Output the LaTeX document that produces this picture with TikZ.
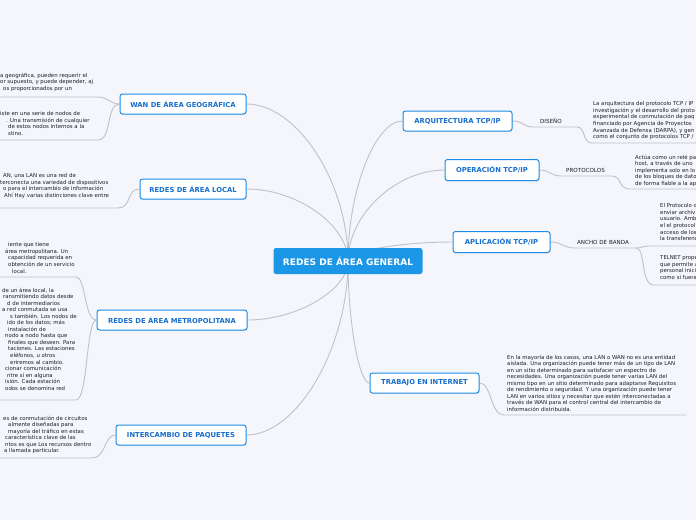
\documentclass[tikz,border=0pt]{standalone}
\usepackage{fontspec}
\setmainfont{DejaVu Sans}
\usetikzlibrary{shadows}
\pgfdeclarelayer{back}
\pgfsetlayers{back,main}
\definecolor{bgc}{RGB}{244,246,252}
\definecolor{nodeblue}{RGB}{30,140,228}
\definecolor{txtblue}{RGB}{22,110,205}
\definecolor{rootblue}{RGB}{28,150,230}
\definecolor{linegray}{RGB}{192,192,202}
\definecolor{bodytxt}{RGB}{30,30,35}
\begin{document}
\begin{tikzpicture}[x=1pt,y=-1pt,
 topic/.style={draw=nodeblue, line width=1pt, fill=white, rounded corners=2.5pt, text=txtblue,
   font=\fontsize{6.8}{8}\selectfont\bfseries, minimum height=20pt, inner xsep=0pt, inner ysep=0pt,
   drop shadow={shadow xshift=0.6pt, shadow yshift=-0.8pt, opacity=0.18}},
 root/.style={fill=rootblue, rounded corners=2.5pt, text=white, font=\fontsize{9}{10}\selectfont\bfseries,
   minimum width=149pt, minimum height=26pt, inner sep=0pt},
 txt/.style={font=\fontsize{5.4}{6.55}\selectfont, align=left, inner sep=0pt, anchor=north west, text=bodytxt},
 lbl/.style={font=\fontsize{5.6}{6}\selectfont, inner sep=0pt, text=bodytxt},
 link/.style={draw=linegray, line width=0.9pt},
]
\useasboundingbox (0,0) rectangle (696,520);
\clip (0,0) rectangle (696,520);
\begin{pgfonlayer}{back}
\fill[bgc] (0,0) rectangle (696,520);
\end{pgfonlayer}

% root and topics
\node[root] (root) at (348,261) {REDES DE ÁREA GENERAL};
\node[topic, minimum width=126pt] (wan) at (183,104) {WAN DE ÁREA GEOGRÁFICA};
\node[topic, minimum width=106pt] (lan) at (193,189) {REDES DE ÁREA LOCAL};
\node[topic, minimum width=150pt] (metro) at (172,320) {REDES DE ÁREA METROPOLITANA};
\node[topic, minimum width=130pt] (paq) at (181,435) {INTERCAMBIO DE PAQUETES};
\node[topic, minimum width=109pt] (arq) at (457.5,121) {ARQUITECTURA TCP/IP};
\node[topic, minimum width=94pt, minimum height=21pt] (oper) at (492,170) {OPERACIÓN TCP/IP};
\node[topic, minimum width=97pt, minimum height=21pt] (aplic) at (501.5,242) {APLICACIÓN TCP/IP};
\node[topic, minimum width=109pt] (trab) at (424.5,383) {TRABAJO EN INTERNET};

% labels
\node[lbl] (dis) at (551,121) {DISEÑO};
\node[lbl] (prot) at (585.5,170) {PROTOCOLOS};
\node[lbl] (anch) at (603,242) {ANCHO DE BANDA};

% left texts
\node[txt] (w1) at (0,72.5) {a geográfica, pueden requerir el\\or supuesto, y puede depender, aj\\\hspace*{3pt}os proporcionados por un};
\node[txt] (w2) at (0,111.5) {iste en una serie de nodos de\\\hspace*{6pt}. Una transmisión de cualquier\\\hspace*{8pt}de estos nodos internos a la\\\hspace*{8pt}stino.};
\node[txt] (l1) at (0,173.5) {\hspace*{3pt}AN, una LAN es una red de\\terconecta una variedad de dispositivos\\\hspace*{3pt}o para el intercambio de información\\\hspace*{4pt}Ahí Hay varias distinciones clave entre};
\node[txt] (m1) at (0,242.5) {\hspace*{8pt}iente que tiene\\\hspace*{5pt}área metropolitana. Un\\\hspace*{8pt}capacidad requerida en\\\hspace*{8pt}obtención de un servicio\\\hspace*{12pt}local.};
\node[txt] (m2) at (0,287.5) {\hspace*{2pt}de un área local, la\\\hspace*{3pt}ransmitiendo datos desde\\\hspace*{7pt}d de intermediarios\\\hspace*{2pt}a red conmutada se usa\\\hspace*{10pt}s también. Los nodos de\\\hspace*{7pt}ido de los datos; más\\\hspace*{8pt}instalación de\\\hspace*{5pt}nodo a nodo hasta que\\\hspace*{8pt}finales que deseen. Para\\\hspace*{8pt}taciones. Las estaciones\\\hspace*{10pt}eléfonos, u otros\\\hspace*{10pt}eriremos al cambio.\\\hspace*{5pt}cionar comunicación\\\hspace*{7pt}ntre sí en alguna\\\hspace*{5pt}isión. Cada estación\\\hspace*{5pt}odos se denomina red};
\node[txt] (p1) at (0,415.5) {\hspace*{3pt}es de conmutación de circuitos\\\hspace*{8pt}almente diseñadas para\\\hspace*{8pt}mayoría del tráfico en estas\\\hspace*{5pt}característica clave de las\\\hspace*{5pt}ntos es que Los recursos dentro\\\hspace*{4pt}a llamada particular.};

% right texts
\node[txt] (a1) at (593,101.5) {La arquitectura del protocolo TCP / IP\\investigación y el desarrollo del proto\\experimental de conmutación de paq\\financiado por Agencia de Proyectos\\Avanzada de Defensa (DARPA), y gen\\como el conjunto de protocolos TCP /};
\node[txt] (o1) at (635,154.5) {Actúa como un relé pa\\host, a través de uno\\implementa solo en lo\\de los bloques de dato\\de forma fiable a la ap};
\node[txt] (ap1) at (660,203.5) {El Protocolo d\\enviar archiv\\usuario. Amb\\el el protocol\\acceso de los\\la transferenc};
\node[txt] (ap2) at (660,255.5) {TELNET prope\\que permite a\\personal inici\\como si fuera};
\node[txt] (t1) at (507,354.5) {En la mayoría de los casos, una LAN o WAN no es una entidad\\aislada. Una organización puede tener más de un tipo de LAN\\en un sitio determinado para satisfacer un espectro de\\necesidades. Una organización puede tener varias LAN del\\mismo tipo en un sitio determinado para adaptarse Requisitos\\de rendimiento o seguridad. Y una organización puede tener\\LAN en varios sitios y necesitar que estén interconectadas a\\través de WAN para el control central del intercambio de\\información distribuida.};

% underline end coordinates
\coordinate (w1e) at (0,97);
\coordinate (w2e) at (0,140);
\coordinate (l1e) at (0,208);
\coordinate (m1e) at (0,277);
\coordinate (m2e) at (0,400);
\coordinate (p1e) at (0,458);
\coordinate (a1e) at (696,143);
\coordinate (o1e) at (696,189);
\coordinate (ap1e) at (696,246);
\coordinate (ap2e) at (696,285);
\coordinate (t1e) at (686,415);
\coordinate (anchfork) at (636,248);

\begin{pgfonlayer}{back}
% root connectors
\draw[link] (root.center) .. controls (348,182) and (297,104) .. (wan.east);
\draw[link] (root.center) .. controls (348,225) and (297,189) .. (lan.east);
\draw[link] (root.center) .. controls (348,290) and (297,320) .. (metro.east);
\draw[link] (root.center) .. controls (348,348) and (297,435) .. (paq.east);
\draw[link] (root.center) .. controls (348,191) and (375,121) .. (arq.west);
\draw[link] (root.center) .. controls (348,215) and (396,170) .. (oper.west);
\draw[link] (root.center) .. controls (348,251) and (400,242) .. (aplic.west);
\draw[link] (root.center) .. controls (348,322) and (359,383) .. (trab.west);
% left sub connectors with underlines
\draw[link] (wan.west) .. controls (110,104) and (108,97) .. (97,97) -- (w1e);
\draw[link] (wan.west) .. controls (106,104) and (112,140) .. (98,140) -- (w2e);
\draw[link] (lan.west) .. controls (126,189) and (132,208) .. (118,208) -- (l1e);
\draw[link] (metro.west) .. controls (84,320) and (86,277) .. (76,277) -- (m1e);
\draw[link] (metro.west) .. controls (86,320) and (88,400) .. (76,400) -- (m2e);
\draw[link] (paq.west) .. controls (104,435) and (106,458) .. (92,458) -- (p1e);
% right sub connectors
\draw[link] (arq.east) .. controls (524,121) and (522,127) .. (534,127) -- (577,127) .. controls (586,127) and (582,143) .. (592,143) -- (a1e);
\draw[link] (oper.east) .. controls (550,170) and (550,176) .. (562,176) -- (612,176) .. controls (622,176) and (618,189) .. (630,189) -- (o1e);
\draw[link] (aplic.east) .. controls (562,242) and (563,248) .. (575,248) -- (anchfork);
\draw[link] (anchfork) .. controls (642,248) and (642,246) .. (650,246) -- (ap1e);
\draw[link] (anchfork) .. controls (646,248) and (640,285) .. (654,285) -- (ap2e);
\draw[link] (trab.east) .. controls (492,383) and (490,415) .. (504,415) -- (t1e);
\end{pgfonlayer}
\end{tikzpicture}
\end{document}
